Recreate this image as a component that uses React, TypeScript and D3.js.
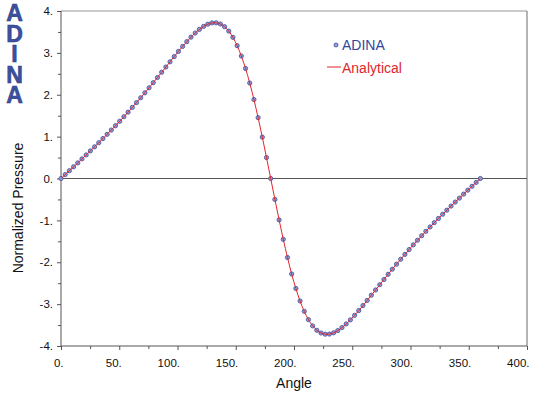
import React, { useRef, useEffect } from 'react';
import * as d3 from 'd3';

// angle of each ADINA result point (deg)
const angles = [
  0, 3.6, 7.2, 10.8, 14.4, 18, 21.6, 25.2, 28.8, 32.4, 36, 39.6, 43.2, 46.8, 50.4, 54, 57.6, 61.2, 64.8, 68.4,
  72, 75.6, 79.2, 82.8, 86.4, 90, 93.6, 97.2, 100.8, 104.4, 108, 111.6, 115.2, 118.8, 122.4, 126, 129.6, 133.2,
  136.8, 140.4, 144, 147.6, 151.2, 154.8, 158.4, 162, 165.6, 169.2, 172.8, 176.4, 180, 183.6, 187.2, 190.8, 194.4,
  198, 201.6, 205.2, 208.8, 212.4, 216, 219.6, 223.2, 226.8, 230.4, 234, 237.6, 241.2, 244.8, 248.4, 252, 255.6,
  259.2, 262.8, 266.4, 270, 273.6, 277.2, 280.8, 284.4, 288, 291.6, 295.2, 298.8, 302.4, 306, 309.6, 313.2, 316.8,
  320.4, 324, 327.6, 331.2, 334.8, 338.4, 342, 345.6, 349.2, 352.8, 356.4, 360
];

const pressure = [
  0, 0.093, 0.186, 0.279, 0.373, 0.468, 0.563, 0.659, 0.756, 0.854, 0.954, 1.055, 1.157, 1.261, 1.367, 1.475,
  1.585, 1.697, 1.812, 1.928, 2.046, 2.166, 2.288, 2.412, 2.537, 2.662, 2.787, 2.912, 3.034, 3.154, 3.268, 3.376,
  3.474, 3.56, 3.632, 3.685, 3.715, 3.718, 3.69, 3.625, 3.52, 3.37, 3.172, 2.925, 2.627, 2.28, 1.886, 1.453, 0.988,
  0.5, 0,
  -0.5, -0.988, -1.453, -1.886, -2.28, -2.627, -2.925, -3.172, -3.37, -3.52, -3.625, -3.69, -3.718, -3.715, -3.685,
  -3.632, -3.56, -3.474, -3.376, -3.268, -3.154, -3.034, -2.912, -2.787, -2.662, -2.537, -2.412, -2.288, -2.166,
  -2.046, -1.928, -1.812, -1.697, -1.585, -1.475, -1.367, -1.261, -1.157, -1.055, -0.954, -0.854, -0.756, -0.659,
  -0.563, -0.468, -0.373, -0.279, -0.186, -0.093, 0
];

const xTicks = [0, 50, 100, 150, 200, 250, 300, 350, 400];
const xMinorTicks = [25, 75, 125, 175, 225, 275, 325, 375];
const yTicks = [-4, -3, -2, -1, 0, 1, 2, 3, 4];
const yMinorTicks = [-3.5, -2.5, -1.5, -0.5, 0.5, 1.5, 2.5, 3.5];
const logoLetters = ['A', 'D', 'I', 'N', 'A'];

const FONT = '"Liberation Sans", Arial, Helvetica, sans-serif';

const App: React.FC = () => {
  const svgRef = useRef<SVGSVGElement | null>(null);

  useEffect(() => {
    const svg = d3.select(svgRef.current);
    svg.selectAll('*').remove();

    const left = 61, right = 527, top = 11, bottom = 346;
    const axisColor = '#555';

    const x = d3.scaleLinear().domain([0, 400]).range([left, right]);
    const y = d3.scaleLinear().domain([-4, 4]).range([bottom, top]);

    const points = angles.map((a, i) => ({ a, p: pressure[i] }));

    // frame
    svg.append('line')
      .attr('x1', left).attr('x2', right).attr('y1', top).attr('y2', top)
      .attr('stroke', '#b8b8b8').attr('stroke-width', 1.5);
    svg.append('line')
      .attr('x1', right).attr('x2', right).attr('y1', top).attr('y2', bottom)
      .attr('stroke', '#6a6a6a').attr('stroke-width', 1);

    // zero line
    svg.append('line')
      .attr('x1', left).attr('x2', right).attr('y1', y(0)).attr('y2', y(0))
      .attr('stroke', axisColor).attr('stroke-width', 1);

    // y axis
    const yAxis = svg.append('g')
      .attr('transform', `translate(${left},0)`)
      .call(d3.axisLeft(y).tickValues(yTicks).tickSize(4).tickPadding(4).tickFormat(d => `${d}.`));
    yAxis.call(g => g.select('.domain').remove());
    yAxis.selectAll('line').attr('stroke', axisColor);
    yAxis.selectAll('text').attr('font-family', FONT).attr('font-size', 11.5).attr('fill', '#111');

    svg.append('g')
      .attr('transform', `translate(${left},0)`)
      .call(d3.axisLeft(y).tickValues(yMinorTicks).tickSize(3).tickFormat(() => ''))
      .call(g => g.select('.domain').remove())
      .selectAll('line').attr('stroke', axisColor);

    // x axis
    const xAxis = svg.append('g')
      .attr('transform', `translate(0,${bottom})`)
      .call(d3.axisBottom(x).tickValues(xTicks).tickSize(4).tickPadding(9).tickFormat(d => `${d}.`));
    xAxis.call(g => g.select('.domain').remove());
    xAxis.selectAll('line').attr('stroke', axisColor);
    xAxis.selectAll('text')
      .attr('font-family', FONT).attr('font-size', 11.5).attr('fill', '#111')
      .attr('text-anchor', 'end').attr('x', 2);

    svg.append('g')
      .attr('transform', `translate(0,${bottom})`)
      .call(d3.axisBottom(x).tickValues(xMinorTicks).tickSize(3).tickFormat(() => ''))
      .call(g => g.select('.domain').remove())
      .selectAll('line').attr('stroke', axisColor);

    // axis lines
    svg.append('line')
      .attr('x1', left).attr('x2', left).attr('y1', top).attr('y2', bottom)
      .attr('stroke', axisColor).attr('stroke-width', 1);
    svg.append('line')
      .attr('x1', left).attr('x2', right).attr('y1', bottom).attr('y2', bottom)
      .attr('stroke', axisColor).attr('stroke-width', 1);

    // axis titles
    svg.append('text')
      .attr('x', (left + right) / 2).attr('y', 388)
      .attr('text-anchor', 'middle')
      .attr('font-family', FONT).attr('font-size', 14).attr('fill', '#111')
      .text('Angle');
    svg.append('text')
      .attr('transform', `translate(23,208) rotate(-90)`)
      .attr('text-anchor', 'middle')
      .attr('font-family', FONT).attr('font-size', 14).attr('fill', '#111')
      .text('Normalized Pressure');

    // ADINA logo, stacked letters in one text element
    const logo = svg.append('text')
      .attr('text-anchor', 'middle')
      .attr('font-family', FONT).attr('font-weight', 'bold').attr('font-size', 23)
      .attr('fill', '#3c51a0').attr('stroke', '#2b3d86').attr('stroke-width', 0.6);
    logoLetters.forEach((l, i) => {
      logo.append('tspan')
        .attr('x', 14.5).attr('y', 21 + i * 20.5)
        .text(l);
    });

    // ADINA points
    svg.append('g')
      .selectAll('circle')
      .data(points)
      .enter()
      .append('circle')
      .attr('cx', d => x(d.a))
      .attr('cy', d => y(d.p))
      .attr('r', 2.1)
      .attr('fill', '#93a0d8')
      .attr('stroke', '#4856a2')
      .attr('stroke-width', 0.9);

    // analytical curve
    const line = d3.line<{ a: number; p: number }>()
      .x(d => x(d.a))
      .y(d => y(d.p))
      .curve(d3.curveCatmullRom);
    svg.append('path')
      .datum(points)
      .attr('fill', 'none')
      .attr('stroke', '#e0262c')
      .attr('stroke-width', 1)
      .attr('d', line);

    // legend
    const legend = svg.append('g');
    legend.append('circle')
      .attr('cx', 336).attr('cy', 45).attr('r', 2)
      .attr('fill', '#93a0d8').attr('stroke', '#4856a2').attr('stroke-width', 0.9);
    legend.append('text')
      .attr('x', 342).attr('y', 50)
      .attr('font-family', FONT).attr('font-size', 14).attr('fill', '#3247a0')
      .text('ADINA');
    legend.append('line')
      .attr('x1', 327).attr('x2', 341).attr('y1', 67).attr('y2', 67)
      .attr('stroke', '#e0262c').attr('stroke-width', 1);
    legend.append('text')
      .attr('x', 342).attr('y', 72.5)
      .attr('font-family', FONT).attr('font-size', 14).attr('fill', '#e0262c')
      .text('Analytical');
  }, []);

  return (
    <svg
      ref={svgRef}
      width={550}
      height={395}
      style={{ position: 'absolute', left: 0, top: 0, background: 'white' }}
    />
  );
};

export default App;
